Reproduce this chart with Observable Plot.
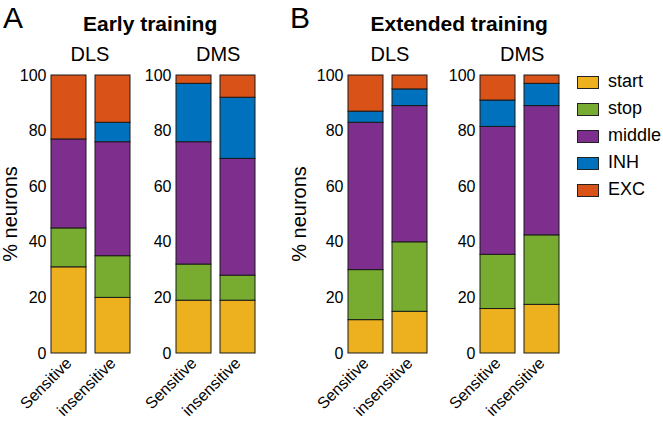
<!DOCTYPE html>
<html><head><meta charset="utf-8">
<script src="https://cdn.jsdelivr.net/npm/d3@7"></script>
<script src="https://cdn.jsdelivr.net/npm/@observablehq/plot@0.6"></script>
<style>
body{margin:0;background:#fff;font-family:"Liberation Sans",Arial,sans-serif;}
#root{position:relative;width:663px;height:421px;overflow:hidden;background:#fff;}
.t{position:absolute;white-space:nowrap;color:#000;line-height:1;}
.p{position:absolute;top:65px;}
.p svg{overflow:visible;}
.sw{position:absolute;width:20px;height:11px;border:1px solid #222;}
</style></head><body><div id="root"></div>
<script>
// categories
const types = ["start", "stop", "middle", "INH", "EXC"];
const colors = ["#EDB120", "#77AC30", "#7E2F8E", "#0072BD", "#D95319"];
const conditions = ["Sensitive", "insensitive"];
const yTicks = [0, 20, 40, 60, 80, 100];

// values (% neurons) per type, order: start, stop, middle, INH, EXC
const earlyDLS_sensitive   = [31, 14, 32, 0, 23];
const earlyDLS_insensitive = [20, 15, 41, 7, 17];
const earlyDMS_sensitive   = [19, 13, 44, 21, 3];
const earlyDMS_insensitive = [19, 9, 42, 22, 8];
const extDLS_sensitive     = [12, 18, 53, 4, 13];
const extDLS_insensitive   = [15, 25, 49, 6, 5];
const extDMS_sensitive     = [16, 19.5, 46, 9.5, 9];
const extDMS_insensitive   = [17.5, 25, 46.5, 8, 3];

const root = document.getElementById("root");
function addText(txt, css) {
  const d = document.createElement("div");
  d.className = "t"; d.textContent = txt;
  Object.assign(d.style, css);
  root.appendChild(d);
  return d;
}

function panel(sens, insens, left) {
  const rows = [];
  [sens, insens].forEach((vals, i) => {
    vals.forEach((v, j) => { if (v > 0) rows.push({condition: conditions[i], type: types[j], value: v}); });
  });
  const chart = Plot.plot({
    width: 140, height: 356,
    marginTop: 10, marginBottom: 68, marginLeft: 50, marginRight: 10,
    x: {domain: conditions, paddingInner: 0.2, paddingOuter: 0, label: null, tickSize: 0, tickRotate: -45, tickPadding: 7},
    y: {domain: [0, 100], ticks: yTicks, label: null, tickSize: 0, tickPadding: 5},
    color: {domain: types, range: colors},
    style: {fontSize: "16px", fontFamily: "'Liberation Sans', Arial, sans-serif", color: "#000", background: "transparent"},
    marks: [
      Plot.barY(rows, Plot.stackY({x: "condition", y: "value", fill: "type", stroke: "#1a1a1a", strokeWidth: 1}))
    ]
  });
  const w = document.createElement("div");
  w.className = "p"; w.style.left = left + "px";
  w.appendChild(chart);
  root.appendChild(w);
}

panel(earlyDLS_sensitive, earlyDLS_insensitive, 1);
panel(earlyDMS_sensitive, earlyDMS_insensitive, 126);
panel(extDLS_sensitive, extDLS_insensitive, 298);
panel(extDMS_sensitive, extDMS_insensitive, 430);

// titles
addText("A", {left: "3px", top: "3px", fontSize: "30px"});
addText("B", {left: "290px", top: "3px", fontSize: "30px"});
const t1 = addText("Early training", {top: "13px", fontSize: "21px", fontWeight: "bold"});
t1.style.left = (150 - t1.offsetWidth / 2) + "px";
const t2 = addText("Extended training", {top: "13px", fontSize: "21px", fontWeight: "bold"});
t2.style.left = (459 - t2.offsetWidth / 2) + "px";
[["DLS", 90], ["DMS", 218], ["DLS", 390], ["DMS", 522]].forEach(([s, cx]) => {
  const d = addText(s, {top: "44px", fontSize: "20px"});
  d.style.left = (cx - d.offsetWidth / 2) + "px";
});
// y labels
[[10], [299]].forEach(([cx]) => {
  const d = addText("% neurons", {fontSize: "20px", transformOrigin: "center center"});
  d.style.left = (cx - d.offsetWidth / 2) + "px";
  d.style.top = (214 - d.offsetHeight / 2) + "px";
  d.style.transform = "rotate(-90deg)";
});
// legend
types.forEach((ty, i) => {
  const cy = 81.5 + i * 27.2;
  const s = document.createElement("div");
  s.className = "sw";
  s.style.left = "577px"; s.style.top = (cy - 6) + "px"; s.style.background = colors[i];
  root.appendChild(s);
  addText(ty, {left: "608px", top: (cy - 10) + "px", fontSize: "18px"});
});
</script></body></html>
